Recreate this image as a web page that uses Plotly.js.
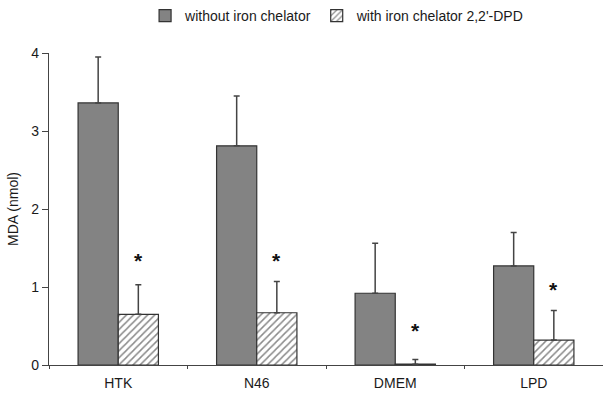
<!DOCTYPE html>
<html>
<head>
<meta charset="utf-8">
<script src="https://cdn.plot.ly/plotly-3.0.1.min.js"></script>
<style>html,body{margin:0;padding:0;background:#fff;}#chart{width:603px;height:397px;}</style>
</head>
<body>
<div id="chart"></div>
<script>
const categories = ["HTK", "N46", "DMEM", "LPD"];
const withoutChelator = [3.36, 2.81, 0.92, 1.27];
const withoutChelatorErr = [0.59, 0.64, 0.64, 0.43];
const withChelator = [0.65, 0.67, 0.01, 0.32];
const withChelatorErr = [0.38, 0.40, 0.06, 0.38];
const starY = [1.39, 1.39, 0.50, 1.02];
const seriesNames = ["without iron chelator", "with iron chelator 2,2'-DPD"];

const zeros = categories.map(() => 0);
const edge = '#333333';
const FONT = 'Liberation Sans, Arial, sans-serif';
const traces = [
  {
    type: 'bar', name: seriesNames[0], x: categories, y: withoutChelator,
    marker: {color: '#838383', line: {color: edge, width: 1.2}},
    error_y: {type: 'data', symmetric: false, array: withoutChelatorErr, arrayminus: zeros,
              color: '#444', thickness: 1.5, width: 3}
  },
  {
    type: 'bar', name: seriesNames[1], x: categories, y: withChelator,
    marker: {color: '#ffffff', line: {color: edge, width: 1.2},
             pattern: {shape: '/', fgcolor: '#8a8a8a', bgcolor: '#ffffff', size: 5, solidity: 0.3}},
    error_y: {type: 'data', symmetric: false, array: withChelatorErr, arrayminus: zeros,
              color: '#444', thickness: 1.5, width: 3}
  }
];

const annotations = categories.map((c, i) => ({
  x: c, y: starY[i], xref: 'x', yref: 'y', text: '<b>*</b>', showarrow: false,
  xshift: 20, yshift: -4, font: {family: FONT, size: 21, color: '#111'}
}));

const layout = {
  width: 603, height: 397,
  margin: {l: 49, r: 0, t: 53, b: 32},
  paper_bgcolor: '#fff', plot_bgcolor: '#fff',
  font: {family: FONT, size: 14, color: '#1a1a1a'},
  barmode: 'group', bargap: 0.42, bargroupgap: 0,
  showlegend: true,
  legend: {orientation: 'h', x: 0.52, xanchor: 'center', y: 1.12, yanchor: 'middle',
           itemwidth: 30, font: {size: 14}, traceorder: 'normal'},
  xaxis: {type: 'category', range: [-0.5, 3.5], showline: true, linecolor: '#444', linewidth: 1.2,
          ticks: 'outside', tickson: 'boundaries', ticklen: 3, tickcolor: '#444',
          showgrid: false, zeroline: false, ticklabelstandoff: 5, fixedrange: true},
  yaxis: {range: [0, 4], tickvals: [0, 1, 2, 3, 4], showline: true, linecolor: '#444', linewidth: 1.2,
          ticks: 'outside', ticklen: 6, tickcolor: '#444', showgrid: false, zeroline: false,
          title: {text: 'MDA (nmol)', font: {size: 14}, standoff: 9}, fixedrange: true},
  annotations: annotations
};

Plotly.newPlot('chart', traces, layout, {displayModeBar: false, staticPlot: true});
</script>
</body>
</html>
